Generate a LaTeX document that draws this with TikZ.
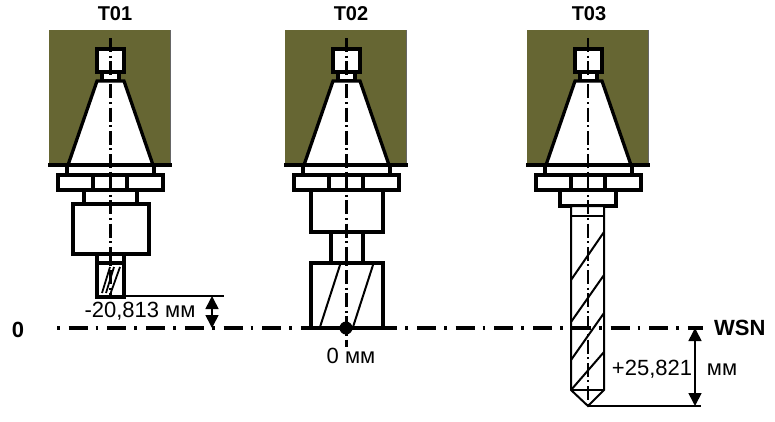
\documentclass[tikz,border=0pt]{standalone}
\usepackage{fontspec}
\setmainfont{Liberation Sans}
\usetikzlibrary{arrows.meta}
\definecolor{holder}{HTML}{666633}
\tikzset{
 x=1pt,y=-1pt,
 thickline/.style={draw=black,line width=3.3pt,line join=miter},
 thinline/.style={draw=black,line width=2pt},
 axisv/.style={draw=black,line width=3pt,dash pattern=on 14pt off 3.6pt on 2pt off 3.6pt},
 axisthin/.style={draw=black,line width=1.6pt,dash pattern=on 14pt off 3.6pt on 2pt off 3.6pt},
 axish/.style={draw=black,line width=3.6pt,dash pattern=on 2.7pt off 9pt on 19pt off 8pt},
 dimline/.style={draw=black,line width=1.6pt},
 dimarrow/.style={draw=black,line width=1.6pt,{Triangle[length=13pt,width=13pt]}-{Triangle[length=13pt,width=13pt]}},
 title/.style={font=\bfseries\fontsize{20}{22}\selectfont,inner sep=0pt},
 wsntext/.style={font=\bfseries\fontsize{22}{24}\selectfont,inner sep=0pt},
 dimtext/.style={font=\fontsize{22}{24}\selectfont,inner sep=0pt},
 holderpic/.pic={
  \fill[holder] (-61,30) rectangle (60,165);
  \draw[draw=black!60,line width=1pt] (60,30) -- (60,165);
  \draw[thickline] (-62,165) -- (62,165);
  \filldraw[thickline,fill=white] (-13,49) rectangle (14,72);
  \filldraw[thickline,fill=white] (-8,72) rectangle (9,81);
  \filldraw[thickline,fill=white] (-13,81) -- (14,81) -- (43,165) -- (-42,165) -- cycle;
  \filldraw[thickline,fill=white] (-43,165) rectangle (44,175);
  \filldraw[thickline,fill=white] (-52,175) rectangle (53,190);
  \draw[thickline] (-17,175) -- (-17,190) (17,175) -- (17,190);
 }
}
\begin{document}
\begin{tikzpicture}
\useasboundingbox (0,0) rectangle (775,421);
\pic at (110,0) {holderpic};
\pic at (346,0) {holderpic};
\pic at (588,0) {holderpic};
\node[title] (t1) at (115,14) {T01};
\node[title] (t2) at (351,14) {T02};
\node[title] (t3) at (589,14) {T03};
% T01
\draw[thickline] (84,190) -- (84,204) (137,190) -- (137,204);
\filldraw[thickline,fill=white] (73,204) rectangle (149,254);
\filldraw[thickline,fill=white] (97,254) rectangle (124,297);
\draw[thickline] (97,263) -- (124,263);
\draw[line width=1.8pt] (110,267) -- (102,293) (120,267) -- (110,295) (114,267) -- (106,293);
% T02
\filldraw[thickline,fill=white] (311,190) rectangle (383,232);
\draw[thickline] (331,232) -- (331,263) (363,232) -- (363,263);
\filldraw[thickline,fill=white] (311,263) rectangle (383,328);
\draw[thinline] (340,265) -- (320,327) (373,265) -- (353,327);
% T03
\filldraw[thickline,fill=white] (560,190) rectangle (616,206);
\filldraw[thinline,fill=white] (571,206) -- (604,206) -- (604,390) -- (588,406) -- (571,390) -- cycle;
\draw[thinline] (571,216) -- (604,216) (571,390) -- (604,390);
\draw[thinline] (571,280) -- (604,232) (571,322) -- (604,275) (571,360) -- (604,313) (571,390) -- (604,352);
% axes
\draw[axisv] (110,38) -- (110,297);
\draw[axisv] (346,38) -- (346,347);
\draw[axisthin] (588,38) -- (588,406);
\draw[axish] (57,328) -- (703,328);
\fill (346,328) circle (6.5);
% dimensions
\coordinate (a1) at (124,296); \coordinate (a2) at (224,296);
\draw[dimline] (a1) -- (a2);
\draw[dimarrow] (212,296) -- (212,328);
\coordinate (b1) at (588,406); \coordinate (b2) at (701,406);
\draw[dimline] (b1) -- (b2);
\draw[dimarrow] (695,328) -- (695,406);
\node[wsntext,anchor=center] (zero) at (18,330) {0};
\node[wsntext,anchor=west] (wsn) at (714,328) {WSN};
\node[dimtext] (d1) at (140,311) {-20,813 мм};
\node[dimtext] (d2) at (351,356) {0 мм};
\node[dimtext] (d3) at (652,369) {+25,821};
\node[dimtext] (d4) at (722,370) {мм};
\end{tikzpicture}
\end{document}
